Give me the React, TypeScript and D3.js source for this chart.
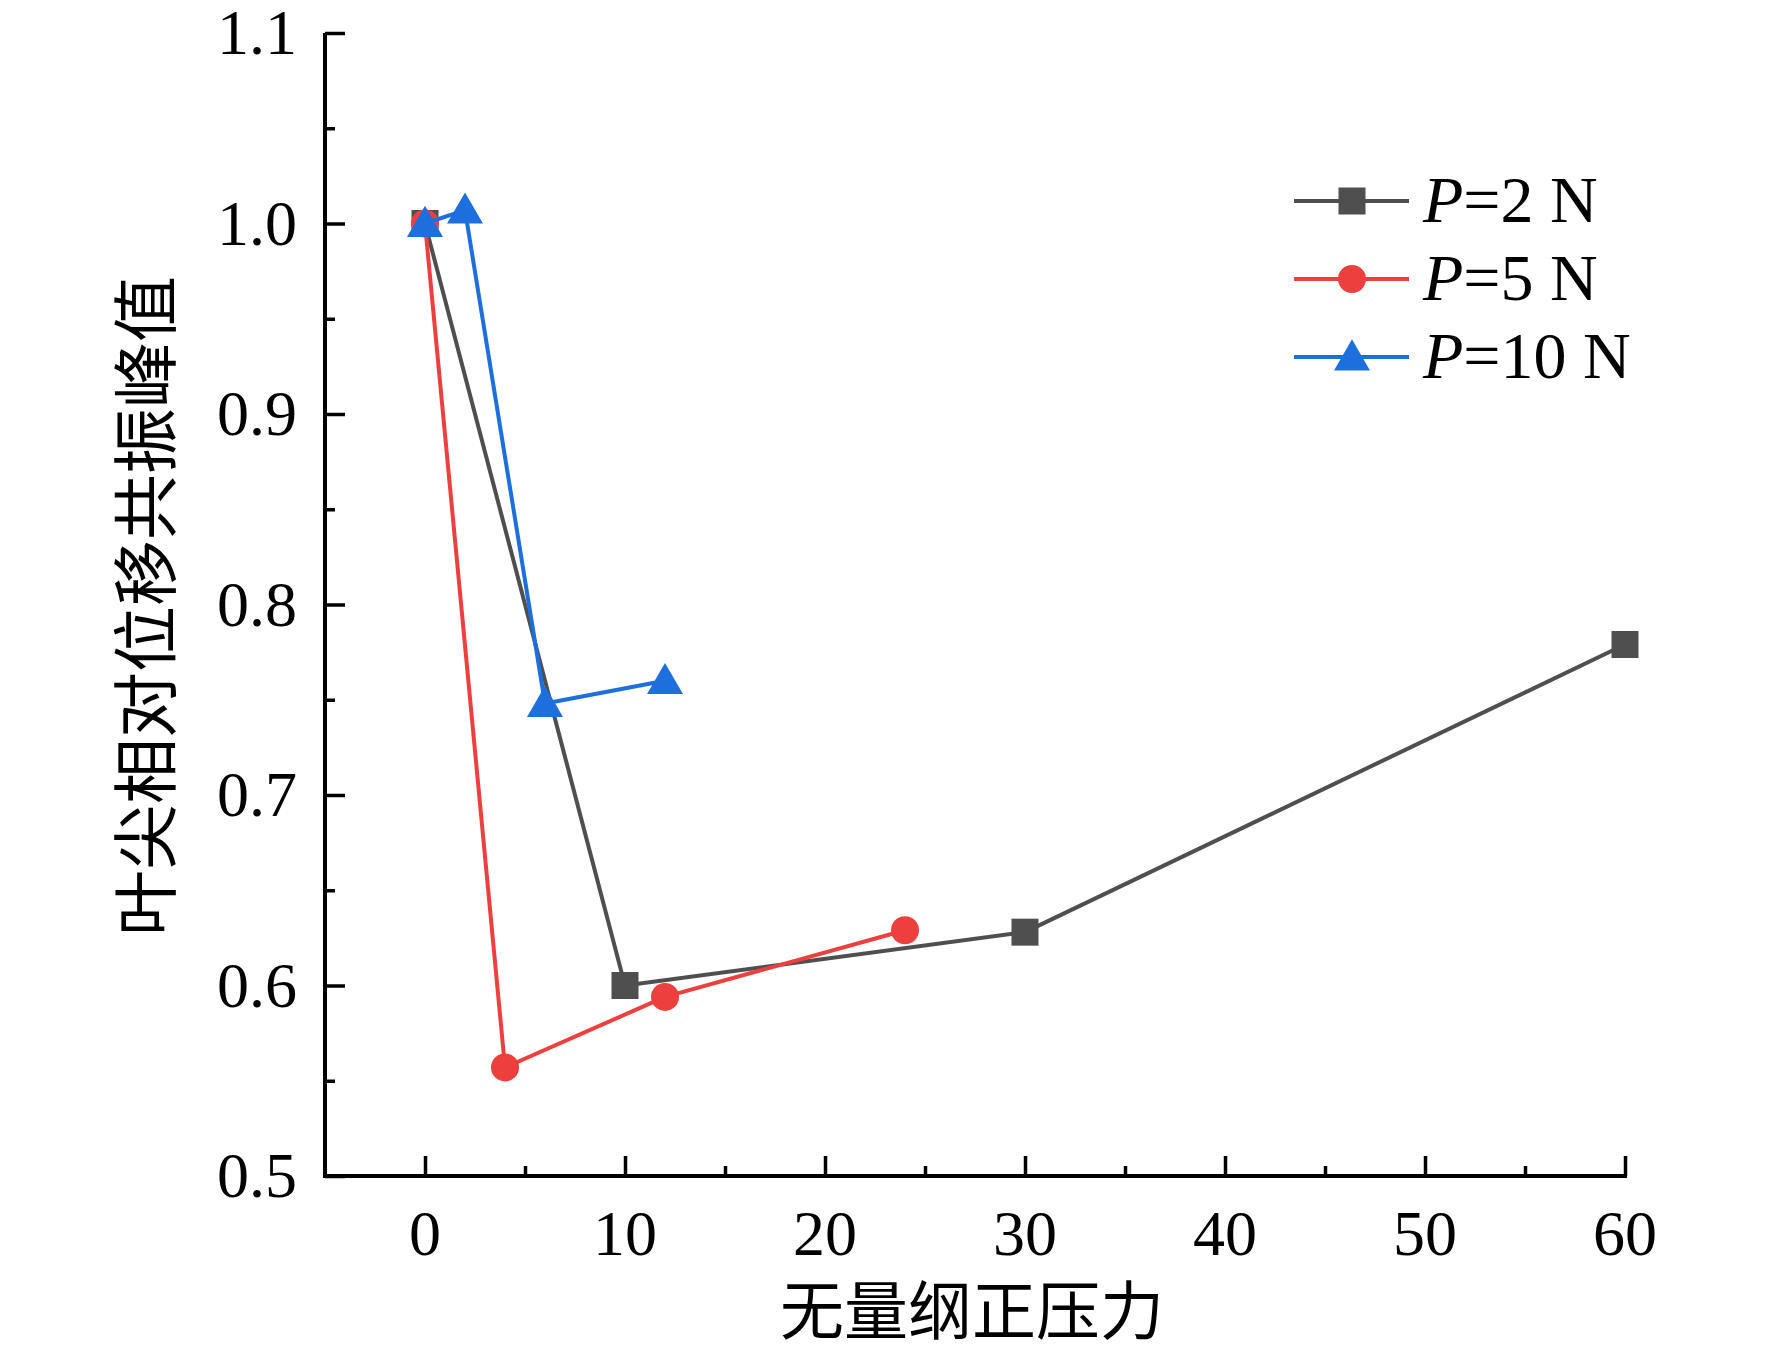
import React, { useEffect, useRef } from "react";
import * as d3 from "d3";

// Data
const seriesNames = ["P=2 N", "P=5 N", "P=10 N"];
const loadLabels = ["2", "5", "10"];
const x2N = [0, 10, 30, 60];
const y2N = [1.0, 0.6, 0.628, 0.779];
const x5N = [0, 4, 12, 24];
const y5N = [1.0, 0.557, 0.594, 0.629];
const x10N = [0, 2, 6, 12];
const y10N = [1.0, 1.007, 0.748, 0.76];
const xTicks = [0, 10, 20, 30, 40, 50, 60];
const yTicks = [0.5, 0.6, 0.7, 0.8, 0.9, 1.0, 1.1];
const xTitle = "无量纲正压力";
const yTitle = "叶尖相对位移共振峰值";

interface Pt {
  x: number;
  y: number;
}

const W = 1772;
const H = 1354;
const FONT = "'Liberation Serif', 'Times New Roman', 'Noto Sans CJK SC', serif";

const App: React.FC = () => {
  const svgRef = useRef<SVGSVGElement | null>(null);

  useEffect(() => {
    const svg = d3.select(svgRef.current);
    svg.selectAll("*").remove();

    const xScale = d3.scaleLinear().domain([-5, 60]).range([325, 1625]);
    const yScale = d3.scaleLinear().domain([0.5, 1.1]).range([1176, 33]);

    const colors = ["#4f4f4f", "#ee3f3f", "#1c6fdc"];
    const shapes = ["square", "circle", "triangle"];
    const series: Pt[][] = [
      x2N.map((x, i) => ({ x, y: y2N[i] })),
      x5N.map((x, i) => ({ x, y: y5N[i] })),
      x10N.map((x, i) => ({ x, y: y10N[i] })),
    ];

    // axes: ticks point inward
    const xAxis = svg
      .append("g")
      .attr("transform", `translate(0, ${yScale(0.5)})`)
      .call(
        d3
          .axisTop(xScale)
          .tickValues(xTicks)
          .tickSize(20)
          .tickFormat(() => "")
      );
    xAxis
      .append("g")
      .call(
        d3
          .axisTop(xScale)
          .tickValues(d3.range(5, 60, 10))
          .tickSize(10)
          .tickFormat(() => "")
      )
      .select(".domain")
      .remove();
    xAxis
      .select(".domain")
      .attr("d", `M${xScale(-5) - 2},0H${xScale(60) + 2}`);

    const yAxis = svg
      .append("g")
      .attr("transform", `translate(${xScale(-5)}, 0)`)
      .call(
        d3
          .axisRight(yScale)
          .tickValues(yTicks)
          .tickSize(20)
          .tickFormat(() => "")
      );
    yAxis
      .append("g")
      .call(
        d3
          .axisRight(yScale)
          .tickValues(d3.range(0.55, 1.1, 0.1))
          .tickSize(10)
          .tickFormat(() => "")
      )
      .select(".domain")
      .remove();
    yAxis
      .select(".domain")
      .attr("d", `M0,${yScale(1.1)}V${yScale(0.5) + 2}`);

    svg
      .selectAll(".domain")
      .attr("stroke", "#000")
      .attr("stroke-width", 4)
      .attr("fill", "none");
    svg.selectAll(".tick line").attr("stroke", "#000").attr("stroke-width", 3.5);

    // tick labels
    svg
      .append("g")
      .selectAll("text")
      .data(xTicks)
      .enter()
      .append("text")
      .attr("x", (d) => xScale(d))
      .attr("y", 1255)
      .attr("text-anchor", "middle")
      .style("font-family", FONT)
      .style("font-size", "64px")
      .text((d) => d);

    svg
      .append("g")
      .selectAll("text")
      .data(yTicks)
      .enter()
      .append("text")
      .attr("x", 297)
      .attr("y", (d) => yScale(d) + 21)
      .attr("text-anchor", "end")
      .style("font-family", FONT)
      .style("font-size", "64px")
      .text((d) => d3.format(".1f")(d));

    // axis titles
    svg
      .append("text")
      .attr("x", 972)
      .attr("y", 1312)
      .attr("text-anchor", "middle")
      .attr("dominant-baseline", "central")
      .style("font-family", FONT)
      .style("font-size", "64px")
      .text(xTitle);

    svg
      .append("text")
      .attr("transform", `translate(147, 606) rotate(-90)`)
      .attr("text-anchor", "middle")
      .attr("dominant-baseline", "central")
      .style("font-family", FONT)
      .style("font-size", "66px")
      .text(yTitle);

    const symbol = (shape: string) => {
      if (shape === "square") return d3.symbol().type(d3.symbolSquare).size(27 * 27)();
      if (shape === "circle") return d3.symbol().type(d3.symbolCircle).size(Math.PI * 14 * 14)();
      return d3.symbol().type(d3.symbolTriangle).size(560)();
    };

    const line = d3
      .line<Pt>()
      .x((d) => xScale(d.x))
      .y((d) => yScale(d.y));

    series.forEach((pts, i) => {
      const g = svg.append("g");
      g.append("path")
        .attr("d", line(pts)!)
        .attr("fill", "none")
        .attr("stroke", colors[i])
        .attr("stroke-width", 4)
        .attr("stroke-linejoin", "round");
      g.selectAll("path.pt")
        .data(pts)
        .enter()
        .append("path")
        .attr("class", "pt")
        .attr("d", symbol(shapes[i]))
        .attr("transform", (d) => `translate(${xScale(d.x)}, ${yScale(d.y) + (shapes[i] === "triangle" ? 3 : 0)})`)
        .attr("fill", colors[i]);
    });

    // legend
    const legend = svg.append("g");
    seriesNames.forEach((name, i) => {
      const cy = 201 + i * 78;
      legend
        .append("line")
        .attr("x1", 1294)
        .attr("x2", 1409)
        .attr("y1", cy)
        .attr("y2", cy)
        .attr("stroke", colors[i])
        .attr("stroke-width", 4);
      legend
        .append("path")
        .attr("d", symbol(shapes[i]))
        .attr("transform", `translate(1352, ${cy + (shapes[i] === "triangle" ? 3 : 0)})`)
        .attr("fill", colors[i]);
      const t = legend
        .append("text")
        .attr("x", 1423)
        .attr("y", cy + 21)
        .style("font-family", FONT)
        .style("font-size", "66px")
        .attr("aria-label", name);
      t.append("tspan").style("font-style", "italic").text("P");
      t.append("tspan").text(`=${loadLabels[i]} N`);
    });
  }, []);

  return (
    <svg
      ref={svgRef}
      width={W}
      height={H}
      style={{ position: "absolute", left: 0, top: 0, background: "#fff" }}
    />
  );
};

export default App;
